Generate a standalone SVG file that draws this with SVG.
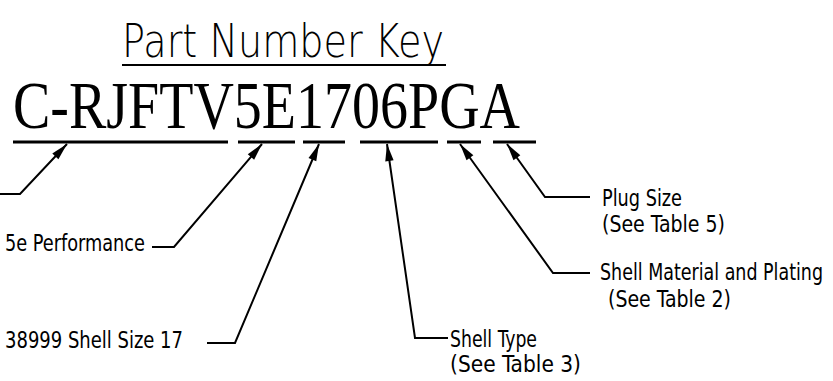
<svg xmlns="http://www.w3.org/2000/svg" width="833" height="381" viewBox="0 0 833 381">
<style>
.title{font-family:"DejaVu Sans","Liberation Sans",sans-serif;font-weight:200;font-size:46px;fill:#000}
.pn{font-family:"Liberation Serif","Times New Roman",serif;font-size:68px;fill:#000}
.lbl{font-family:"DejaVu Sans Condensed","DejaVu Sans","Liberation Sans",sans-serif;font-size:23px;fill:#000}
.ul{stroke:#000;stroke-width:3;fill:none}
.ld{stroke:#000;stroke-width:2;fill:none;marker-end:url(#ah)}
</style>
<defs>
<marker id="ah" viewBox="-19 -5 20 10" refX="0" refY="0" markerWidth="20" markerHeight="10" markerUnits="userSpaceOnUse" orient="auto">
<path d="M0,0 L-17,-4.2 L-17,4.2 Z" fill="#000"/>
</marker>
</defs>
<rect width="833" height="381" fill="#fff"/>
<g id="title">
<text class="title" x="122" y="57" textLength="322" lengthAdjust="spacingAndGlyphs">Part Number Key</text>
<line x1="122" y1="65" x2="446" y2="65" stroke="#000" stroke-width="2"/>
</g>
<g id="partnumber">
<text class="pn" x="13" y="128" textLength="507" lengthAdjust="spacingAndGlyphs">C-RJFTV5E1706PGA</text>
<line class="ul" x1="13" y1="142" x2="228" y2="142"/>
<line class="ul" x1="238" y1="142" x2="295" y2="142"/>
<line class="ul" x1="303" y1="142" x2="345" y2="142"/>
<line class="ul" x1="360" y1="142" x2="438" y2="142"/>
<line class="ul" x1="447" y1="142" x2="481" y2="142"/>
<line class="ul" x1="493" y1="142" x2="536" y2="142"/>
</g>
<g id="connectors">
<polyline class="ld" points="0,194 20,194 67,144"/>
<polyline class="ld" points="152,247 174,247 262,144"/>
<polyline class="ld" points="207,343 235,343 319,144"/>
<polyline class="ld" points="448,338 415,338 387,144"/>
<polyline class="ld" points="590,273 553,273 460,144"/>
<polyline class="ld" points="590,197 545,197 507,144"/>
</g>
<g id="label-performance">
<text class="lbl" x="5" y="251" textLength="140" lengthAdjust="spacingAndGlyphs">5e Performance</text>
</g>
<g id="label-shellsize">
<text class="lbl" x="5" y="348" textLength="178" lengthAdjust="spacingAndGlyphs">38999 Shell Size 17</text>
</g>
<g id="label-shelltype">
<text class="lbl" x="450" y="347" textLength="87" lengthAdjust="spacingAndGlyphs">Shell Type</text>
<text class="lbl" x="450" y="372" textLength="131" lengthAdjust="spacingAndGlyphs">(See Table 3)</text>
</g>
<g id="label-material">
<text class="lbl" x="600" y="280" textLength="223" lengthAdjust="spacingAndGlyphs">Shell Material and Plating</text>
<text class="lbl" x="608" y="307" textLength="123" lengthAdjust="spacingAndGlyphs">(See Table 2)</text>
</g>
<g id="label-plugsize">
<text class="lbl" x="602" y="206" textLength="80" lengthAdjust="spacingAndGlyphs">Plug Size</text>
<text class="lbl" x="602" y="232" textLength="123" lengthAdjust="spacingAndGlyphs">(See Table 5)</text>
</g>
</svg>
